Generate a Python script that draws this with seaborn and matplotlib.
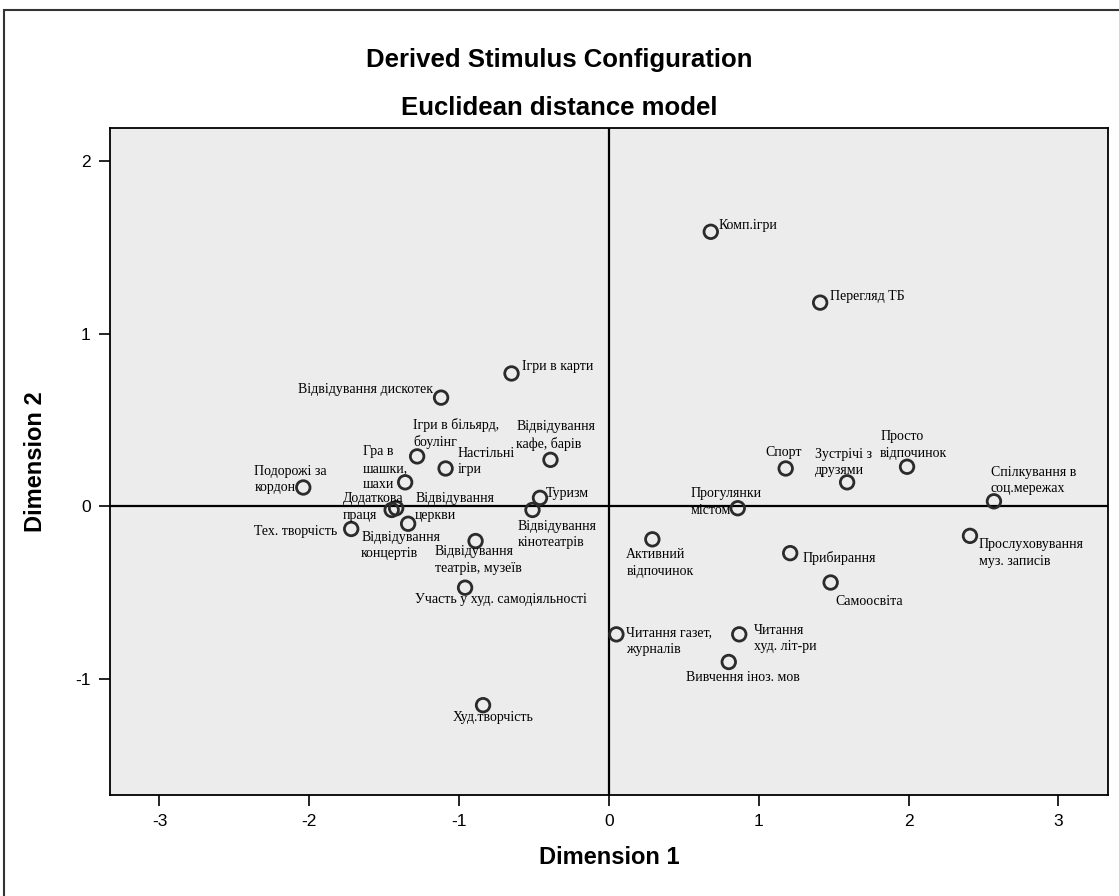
import pandas as pd
import seaborn as sns
import matplotlib.pyplot as plt
from matplotlib.patches import Rectangle

# stimulus names and their coordinates
labels = [
    "Комп.ігри", "Перегляд ТБ", "Ігри в карти", "Відвідування дискотек",
    "Ігри в більярд,\nбоулінг", "Настільні\nігри", "Відвідування\nкафе, барів",
    "Гра в\nшашки,\nшахи", "Подорожі за\nкордон", "Туризм",
    "Відвідування\nкінотеатрів", "Додаткова\nпраця", "Відвідування\nцеркви",
    "Відвідування\nконцертів", "Тех. творчість", "Відвідування\nтеатрів, музеїв",
    "Участь у худ. самодіяльності", "Худ.творчість", "Читання газет,\nжурналів",
    "Активний\nвідпочинок", "Прогулянки\nмістом", "Спорт", "Зустрічі з\nдрузями",
    "Просто\nвідпочинок", "Спілкування в\nсоц.мережах", "Прослуховування\nмуз. записів",
    "Прибирання", "Самоосвіта", "Читання\nхуд. літ-ри", "Вивчення іноз. мов",
]
dim1 = [0.68, 1.41, -0.65, -1.12, -1.28, -1.09, -0.39, -1.36, -2.04, -0.46,
        -0.51, -1.45, -1.42, -1.34, -1.72, -0.89, -0.96, -0.84, 0.05, 0.29,
        0.86, 1.18, 1.59, 1.99, 2.57, 2.41, 1.21, 1.48, 0.87, 0.80]
dim2 = [1.59, 1.18, 0.77, 0.63, 0.29, 0.22, 0.27, 0.14, 0.11, 0.05,
        -0.02, -0.02, -0.01, -0.10, -0.13, -0.20, -0.47, -1.15, -0.74, -0.19,
        -0.01, 0.22, 0.14, 0.23, 0.03, -0.17, -0.27, -0.44, -0.74, -0.90]
x_ticks = [-3, -2, -1, 0, 1, 2, 3]
y_ticks = [-1, 0, 1, 2]

# label placement: (dx, dy) in pixels from the point, horizontal alignment, vertical alignment
label_pos = [
    (8, 6, "left", "center"), (10, 6, "left", "center"), (10, 7, "left", "center"),
    (-8, 8, "right", "center"), (-4, 7, "left", "bottom"), (12, 7, "left", "center"),
    (-34, 9, "left", "bottom"), (-42, 14, "left", "center"), (-49, 8, "left", "center"),
    (6, 4, "left", "center"), (-15, -10, "left", "top"), (-49, 3, "left", "center"),
    (19, 1, "left", "center"), (-47, -7, "left", "top"), (-14, -3, "right", "center"),
    (-41, -4, "left", "top"), (-50, -5, "left", "top"), (10, -12, "center", "center"),
    (10, -7, "left", "center"), (-26, -9, "left", "top"), (-47, 6, "left", "center"),
    (-20, 16, "left", "center"), (-32, 20, "left", "center"), (-27, 22, "left", "center"),
    (-3, 21, "left", "center"), (9, -17, "left", "center"), (12, -5, "left", "center"),
    (5, -19, "left", "center"), (15, -4, "left", "center"), (-43, -16, "left", "center"),
]

df = pd.DataFrame({"label": labels, "Dimension 1": dim1, "Dimension 2": dim2})

sns.set_style("white")
plt.rcParams["font.family"] = ["Liberation Sans", "DejaVu Sans"]
plt.rcParams["axes.unicode_minus"] = False
plt.rcParams["text.color"] = "black"
plt.rcParams["axes.labelcolor"] = "black"
plt.rcParams["xtick.color"] = "black"
plt.rcParams["ytick.color"] = "black"

fig = plt.figure(figsize=(11.19, 8.96), dpi=100)
ax = fig.add_axes([0.0983, 0.1127, 0.8917, 0.7443])
ax.set_facecolor("#ececec")

ax.axhline(0, color="black", lw=1.6, zorder=1)
ax.axvline(0, color="black", lw=1.6, zorder=1)

sns.scatterplot(data=df, x="Dimension 1", y="Dimension 2", ax=ax, marker="o",
                s=95, linewidth=2.0, zorder=3)
pts = ax.collections[0]
pts.set_facecolor("none")
pts.set_edgecolor("#2b2b2b")

for lab, x, y, (dx, dy, ha, va) in zip(labels, dim1, dim2, label_pos):
    ax.annotate(lab, (x, y), xytext=(dx, dy), textcoords="offset pixels",
                ha=ha, va=va, fontsize=10, family=["Liberation Serif", "DejaVu Serif"],
                linespacing=1.35, color="black", zorder=4)

ax.set_xlim(-3.33, 3.33)
ax.set_ylim(-1.67, 2.19)
ax.set_xticks(x_ticks)
ax.set_yticks(y_ticks)
ax.tick_params(axis="both", direction="out", length=8, width=1.2, color="black",
               labelsize=12.5, pad=6, bottom=True, left=True)
for sp in ax.spines.values():
    sp.set_color("black")
    sp.set_linewidth(1.3)

ax.set_xlabel("Dimension 1", fontsize=17, fontweight="bold", labelpad=12)
ax.set_ylabel("Dimension 2", fontsize=17, fontweight="bold", labelpad=20)

fig.text(0.5, 0.933, "Derived Stimulus Configuration", ha="center", va="center",
         fontsize=18.5, fontweight="bold")
fig.text(0.5, 0.879, "Euclidean distance model", ha="center", va="center",
         fontsize=18.5, fontweight="bold")

fig.patches.append(Rectangle((0.004, -0.01), 1.0, 0.999, transform=fig.transFigure,
                             fill=False, edgecolor="#333333", lw=1.5))

fig.savefig("out.png", dpi=100)
